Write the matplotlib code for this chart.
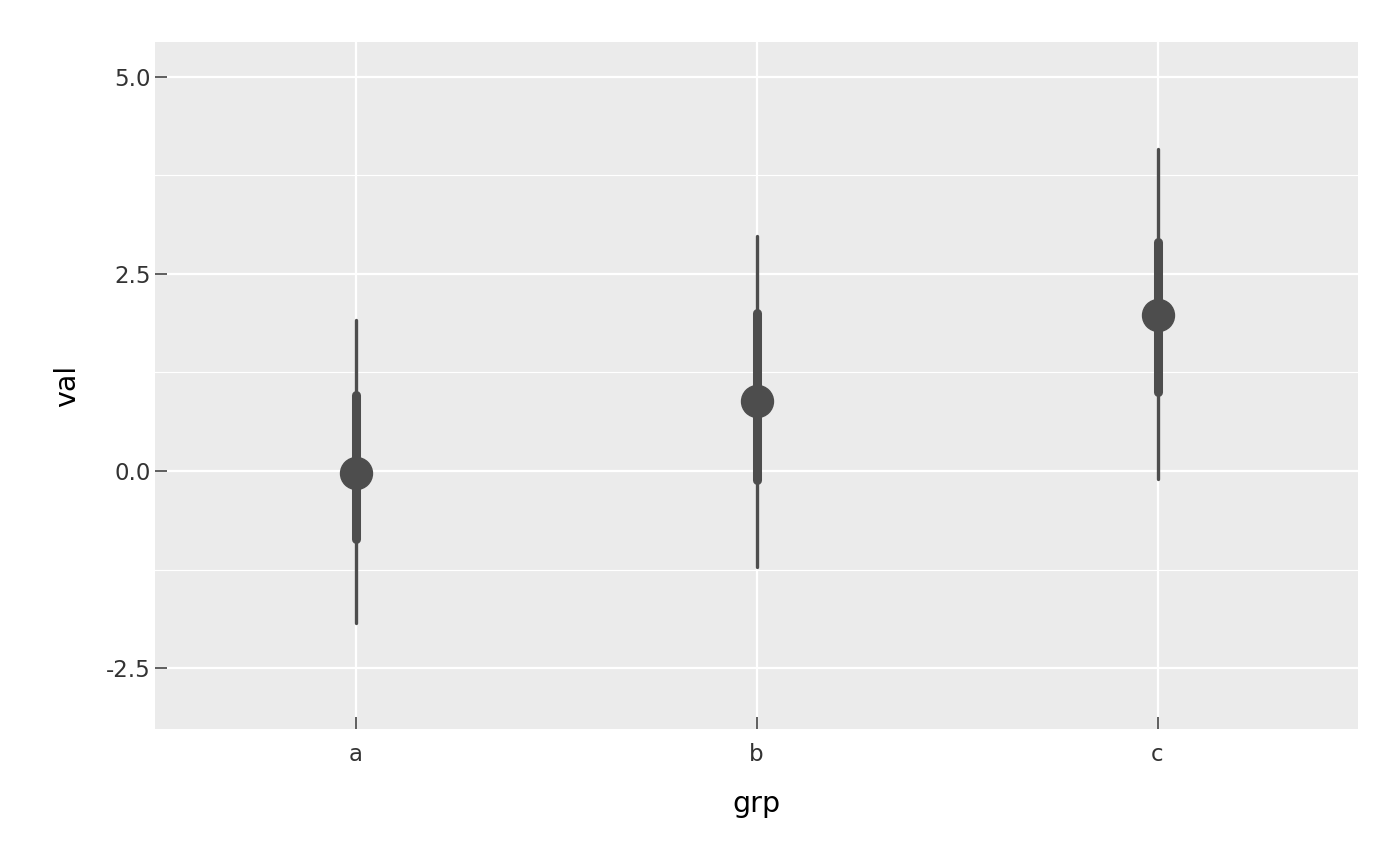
import matplotlib
matplotlib.use('Agg')
import matplotlib.pyplot as plt

groups = ['a', 'b', 'c']
point = [-0.02, 0.89, 1.98]
inner_lo = [-0.86, -0.12, 1.00]
inner_hi = [0.97, 2.00, 2.90]
outer_lo = [-1.93, -1.22, -0.10]
outer_hi = [1.91, 2.98, 4.08]

col = '#4d4d4d'

fig = plt.figure(figsize=(14, 8.66), dpi=100)
ax = fig.add_axes([155/1400, 1-729/866, (1358-155)/1400, (729-42)/866])
ax.set_facecolor('#ebebeb')
for s in ax.spines.values():
    s.set_visible(False)

xs = range(len(groups))
ax.vlines(xs, outer_lo, outer_hi, color=col, lw=2.4, capstyle='round', zorder=3)
ax.vlines(xs, inner_lo, inner_hi, color=col, lw=6.5, capstyle='round', zorder=4)
ax.plot(xs, point, 'o', color=col, ms=23, zorder=5)

ax.set_xlim(-0.5, 2.5)
ax.set_ylim(-3.274, 5.444)
ax.set_xticks(list(xs))
ax.set_xticklabels(groups)
ax.set_yticks([-2.5, 0.0, 2.5, 5.0])
ax.set_yticklabels(['-2.5', '0.0', '2.5', '5.0'])
ax.set_yticks([-1.25, 1.25, 3.75], minor=True)

ax.grid(which='major', color='white', lw=1.6, zorder=1)
ax.grid(which='minor', axis='y', color='white', lw=0.8, zorder=1)
ax.set_axisbelow(True)
ax.tick_params(which='major', direction='in', length=8.5, width=1.1, color='#333333',
               labelsize=16.5, labelcolor='#333333')
ax.tick_params(which='minor', length=0)
ax.tick_params(axis='x', pad=10)
ax.tick_params(axis='y', pad=3)

ax.set_xlabel('grp', fontsize=20.5, labelpad=17)
ax.set_ylabel('val', fontsize=20.5, labelpad=18)

fig.savefig('out.png', dpi=100)
